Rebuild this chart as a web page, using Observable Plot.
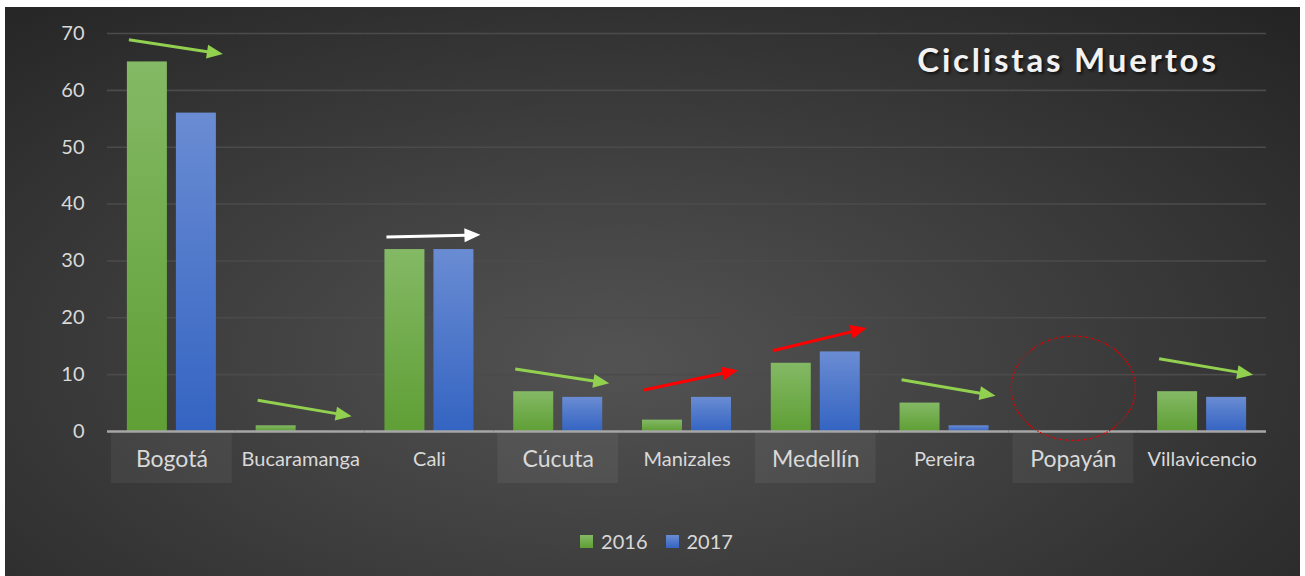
<!DOCTYPE html>
<html>
<head>
<meta charset="utf-8">
<script src="https://cdn.jsdelivr.net/npm/d3@7"></script>
<script src="https://cdn.jsdelivr.net/npm/@observablehq/plot@0.6"></script>
<style>
  html, body { margin: 0; padding: 0; background: #ffffff; }
  #card {
    position: absolute; left: 5px; top: 7px; width: 1295px; height: 569px; overflow: hidden;
    background: radial-gradient(ellipse 75% 85% at 47% 62%, #535353 0%, #3e3e3e 45%, #242424 100%);
    font-family: Lato, "Open Sans", sans-serif;
  }
  #chart { position: absolute; left: 0; top: 0; }
  #chart svg { display: block; }
  #title {
    position: absolute; left: 1063px; top: 36px; transform: translateX(-50%);
    font: bold 33px/32px Lato, "Open Sans", sans-serif; letter-spacing: 2.8px;
    color: #f2f2f2; white-space: nowrap;
    text-shadow: 2px 2px 3px rgba(0,0,0,0.65);
  }
  #legend {
    position: absolute; left: 0; width: 1295px; top: 522px; height: 24px;
    display: flex; justify-content: center; align-items: center;
    font: 20px/24px Lato, "Open Sans", sans-serif; color: #d9d9d9; padding-left: 8px; box-sizing: border-box;
  }
  .item { display: flex; align-items: center; margin: 0 9px; }
  .sw { width: 13px; height: 13px; margin-right: 8px; }
  g[aria-label="y-grid"] line { stroke: #4b4b4b; stroke-opacity: 1; stroke-width: 1.6; }
  g[aria-label="bars2016"], g[aria-label="bars2017"] { filter: drop-shadow(3px 1px 3px rgba(0,0,0,0.45)); }
</style>
</head>
<body>
<div id="card">
  <div id="chart"></div>
  <div id="title">Ciclistas Muertos</div>
  <div id="legend"></div>
</div>
<script>
// ---- Data ----
const categories = ["Bogotá", "Bucaramanga", "Cali", "Cúcuta", "Manizales", "Medellín", "Pereira", "Popayán", "Villavicencio"];
const years = ["2016", "2017"];
const deaths2016 = [65, 1, 32, 7, 2, 12, 5, 0, 7];
const deaths2017 = [56, 0, 32, 6, 6, 14, 1, 0, 6];
const yTicks = [0, 10, 20, 30, 40, 50, 60, 70];
const boxedLabels = ["Bogotá", "Cúcuta", "Medellín", "Popayán"];

// annotation arrows (trend 2016 -> 2017), y levels in data units
const arrowCities = ["Bogotá", "Bucaramanga", "Cali", "Cúcuta", "Manizales", "Medellín", "Pereira", "Villavicencio"];
const arrowStart = [68.8, 5.4, 34.1, 10.9, 7.2, 14.1, 9.0, 12.7];
const arrowEnd   = [66.3, 2.6, 34.5, 8.4, 10.7, 18.1, 6.2, 9.9];
const arrowTrend = ["down", "down", "flat", "down", "up", "up", "down", "down"];

// circled category
const circledCities = ["Popayán"];
const circleLevels = [7.6];

// ---- Build tables ----
const rows = categories.flatMap((c, i) => [
  {city: c, year: years[0], value: deaths2016[i]},
  {city: c, year: years[1], value: deaths2017[i]}
]);
const arrowData = arrowCities.map((c, i) => ({city: c, start: arrowStart[i], end: arrowEnd[i], trend: arrowTrend[i]}));
const circleData = circledCities.map((c, i) => ({city: c, level: circleLevels[i]}));

const trendColor = {down: "#92d050", up: "#ff0000", flat: "#ffffff"};
const seriesFill = {"2016": "url(#gradGreen)", "2017": "url(#gradBlue)"};

const ellipseSymbol = {
  draw(c, size) {
    const r = Math.sqrt(size / Math.PI), a = r * 1.09, b = r * 0.915, k = 0.5523;
    c.moveTo(a, 0);
    c.bezierCurveTo(a, b * k, a * k, b, 0, b);
    c.bezierCurveTo(-a * k, b, -a, b * k, -a, 0);
    c.bezierCurveTo(-a, -b * k, -a * k, -b, 0, -b);
    c.bezierCurveTo(a * k, -b, a, -b * k, a, 0);
    c.closePath();
  }
};

function drawArrows(index, scales, values) {
  const sx = scales.x;
  const bw = typeof sx.bandwidth === "function" ? sx.bandwidth() : 0;
  const left = sx(years[0]), right = sx(years[1]) + bw;
  const g = d3.create("svg:g");
  for (const i of index) {
    const x1 = left + 2, x2 = right + 7;
    const y1 = values.y1[i], y2 = values.y2[i];
    const col = trendColor[arrowData[i].trend];
    const ang = Math.atan2(y2 - y1, x2 - x1), L = 16, W = 7;
    const cs = Math.cos(ang), sn = Math.sin(ang);
    const bx = x2 - L * cs, by = y2 - L * sn;
    g.append("line")
      .attr("x1", x1).attr("y1", y1).attr("x2", bx + 2 * cs).attr("y2", by + 2 * sn)
      .attr("stroke", col).attr("stroke-width", 3);
    g.append("path")
      .attr("d", `M${x2},${y2}L${bx - W * sn},${by + W * cs}L${bx + W * sn},${by - W * cs}Z`)
      .attr("fill", col);
  }
  return g.node();
}

const plot = Plot.plot({
  width: 1295,
  height: 500,
  marginLeft: 102,
  marginRight: 34,
  marginTop: 26,
  marginBottom: 76,
  style: {background: "transparent", color: "#d9d9d9", fontFamily: "Lato, 'Open Sans', sans-serif", fontSize: "20px", overflow: "visible"},
  fx: {domain: categories, paddingInner: 0, paddingOuter: 0, axis: null, label: null, round: false},
  x: {domain: years, paddingInner: 0.184, paddingOuter: 0.406, axis: null, round: false},
  y: {domain: [0, 70], ticks: yTicks, grid: true, tickSize: 0, tickPadding: 23, label: null, tickFormat: d => String(d)},
  marks: [
    Plot.barY(boxedLabels, {fx: d => d, y1: -0.35, y2: -9.15, fill: "#ffffff", fillOpacity: 0.055, insetLeft: 4, insetRight: 4}),
    Plot.barY(rows.filter(d => d.year === years[0]), {fx: "city", x: "year", y: "value", fill: seriesFill["2016"], ariaLabel: "bars2016"}),
    Plot.barY(rows.filter(d => d.year === years[1]), {fx: "city", x: "year", y: "value", fill: seriesFill["2017"], ariaLabel: "bars2017"}),
    Plot.ruleY([0], {stroke: "#a6a6a6", strokeWidth: 2.5}),
    Plot.text(categories, {fx: d => d, text: d => d, frameAnchor: "bottom", lineAnchor: "middle", dy: 28,
      fontSize: d => boxedLabels.includes(d) ? 23 : 20, fill: "#d9d9d9"}),
    Plot.dot(circleData, {fx: "city", y: "level", r: 57, symbol: ellipseSymbol, stroke: "#e00000",
      strokeWidth: 1.3, strokeDasharray: "1.5 1.5", fill: "none"}),
    Plot.arrow(arrowData, {fx: "city", x1: () => years[0], x2: () => years[1], y1: "start", y2: "end", render: drawArrows})
  ]
});

d3.select(plot).insert("defs", ":first-child").html(`
  <linearGradient id="gradGreen" x1="0" y1="0" x2="0" y2="1">
    <stop offset="0" stop-color="#84b965"/><stop offset="1" stop-color="#5f9f35"/>
  </linearGradient>
  <linearGradient id="gradBlue" x1="0" y1="0" x2="0" y2="1">
    <stop offset="0" stop-color="#6a8cd3"/><stop offset="1" stop-color="#3464c2"/>
  </linearGradient>`);

document.getElementById("chart").appendChild(plot);

// legend
const legendSw = {"2016": "linear-gradient(#84b965, #5f9f35)", "2017": "linear-gradient(#6a8cd3, #3464c2)"};
const legend = d3.select("#legend");
for (const y of years) {
  const it = legend.append("div").attr("class", "item");
  it.append("div").attr("class", "sw").style("background", legendSw[y]);
  it.append("span").text(y);
}
</script>
</body>
</html>
